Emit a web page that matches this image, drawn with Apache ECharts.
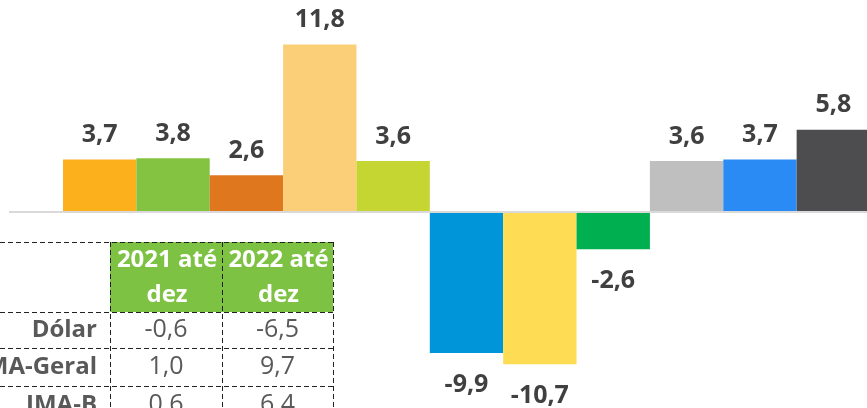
<!DOCTYPE html>
<html>
<head>
<meta charset="utf-8">
<script src="https://cdn.jsdelivr.net/npm/echarts@6/dist/echarts.min.js"></script>
<style>
  html, body { margin: 0; padding: 0; background: #fff; }
  #chart { width: 867px; height: 408px; }
</style>
</head>
<body>
<div id="chart"></div>
<script>
// bar chart data
const categories = ["1", "2", "3", "4", "5", "6", "7", "8", "9", "10", "11"];
const values = [3.7, 3.8, 2.6, 11.8, 3.6, -9.9, -10.7, -2.6, 3.6, 3.7, 5.8];
const barColors = [
  "#FBB01C", "#84C342", "#DF771F", "#FBCF78", "#C5D633", "#0095D9",
  "#FEDD54", "#00B050", "#BFBFBF", "#2B8BF5", "#4D4D4F",
];

// table data
const tableHeaders = ["2021 até\ndez", "2022 até\ndez"];
const rowLabels = ["Dólar", "IMA-Geral", "IMA-B"];
const col2021 = ["-0,6", "1,0", "0,6"];
const col2022 = ["-6,5", "9,7", "6,4"];

const fmt = (v) => String(v).replace(".", ",");
const font = "'Open Sans', sans-serif";

const chart = echarts.init(document.getElementById("chart"));

// table layout
const colX = [-60, 110, 222, 333];
const rowY = [242, 312, 348, 386, 424];
const dash = { stroke: "#222", lineWidth: 1, lineDash: [5, 3] };

function tableGraphics() {
  const els = [];
  els.push({
    type: "rect",
    shape: { x: colX[1], y: rowY[0], width: colX[3] - colX[1], height: rowY[1] - rowY[0] },
    style: { fill: "#7DC243" },
  });
  rowY.slice(0, 4).forEach((y) => {
    els.push({ type: "line", shape: { x1: 0, y1: y + 0.5, x2: colX[3], y2: y + 0.5 }, style: dash });
  });
  colX.slice(1).forEach((x) => {
    els.push({ type: "line", shape: { x1: x + 0.5, y1: rowY[0], x2: x + 0.5, y2: 408 }, style: dash });
  });
  tableHeaders.forEach((h, i) => {
    els.push({
      type: "text",
      style: {
        text: h, x: (colX[i + 1] + colX[i + 2]) / 2 + 1, y: (rowY[0] + rowY[1]) / 2 + 1,
        align: "center", verticalAlign: "middle", fill: "#fff",
        font: "bold 24px " + font, lineHeight: 35,
      },
    });
  });
  rowLabels.forEach((lab, r) => {
    const cy = (rowY[r + 1] + rowY[r + 2]) / 2;
    els.push({
      type: "text",
      style: { text: lab, x: colX[1] - 13, y: cy, align: "right", verticalAlign: "middle",
        fill: "#595959", font: "bold 24px " + font },
    });
    [col2021, col2022].forEach((col, c) => {
      els.push({
        type: "text",
        style: { text: col[r], x: (colX[c + 1] + colX[c + 2]) / 2, y: cy, align: "center",
          verticalAlign: "middle", fill: "#595959", font: "25px " + font },
      });
    });
  });
  return els;
}

chart.setOption({
  animation: false,
  grid: { left: 63, width: 807, top: -1, height: 398, outerBoundsMode: "none" },
  xAxis: {
    type: "category",
    data: categories,
    axisLine: { show: false },
    axisTick: { show: false },
    axisLabel: { show: false },
  },
  yAxis: {
    type: "value",
    min: -13,
    max: 15,
    show: false,
    splitLine: { show: false },
  },
  series: [
    {
      type: "bar",
      barWidth: "100%",
      barCategoryGap: 0,
      data: values.map((v, i) => ({
        value: v,
        itemStyle: { color: barColors[i] },
        label: { position: v >= 0 ? "top" : "bottom", distance: v >= 0 ? 12 : 19 },
      })),
      label: {
        show: true,
        color: "#404040",
        fontFamily: font,
        fontWeight: "bold",
        fontSize: 25,
        formatter: (p) => fmt(p.value),
      },
    },
  ],
});

// baseline across the plot, positioned through the value axis
const y0 = Math.round(chart.convertToPixel({ yAxisIndex: 0 }, 0));
chart.setOption({
  graphic: [
    {
      type: "line",
      z: 10,
      shape: { x1: 9, y1: y0, x2: 867, y2: y0 },
      style: { stroke: "#D9D9D9", lineWidth: 2 },
    },
    ...tableGraphics(),
  ],
});

window.addEventListener("resize", () => {
  chart.resize();
});
</script>
</body>
</html>
